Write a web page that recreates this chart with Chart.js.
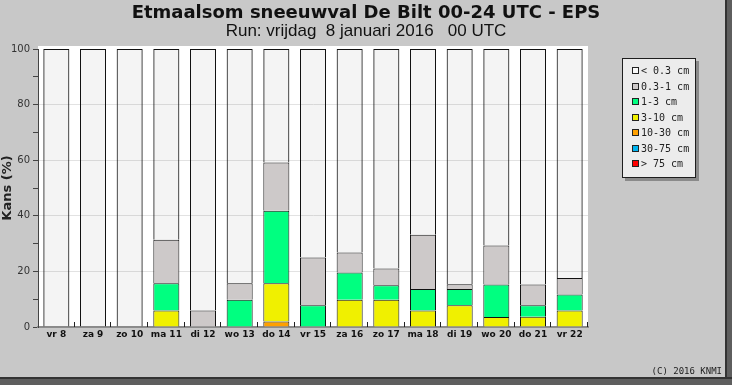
<!DOCTYPE html>
<html>
<head>
<meta charset="utf-8">
<script src="https://cdn.jsdelivr.net/npm/chart.js@4.4.1/dist/chart.umd.min.js"></script>
<style>
  body { margin: 0; background: #c8c8c8; }
  #wrap { position: relative; width: 732px; height: 385px; overflow: hidden; background: #c8c8c8; }
  #plot { position: absolute; left: 0; top: 0; }
  .edge-r { position: absolute; left: 725px; top: 0; width: 7px; height: 385px; background: #5e5e5e; border-left: 2px solid #333; box-sizing: border-box; }
  .edge-b { position: absolute; left: 0; top: 377px; width: 732px; height: 8px; background: #5e5e5e; border-top: 2px solid #333; box-sizing: border-box; }
  .title { position: absolute; left: 0; width: 732px; text-align: center; white-space: pre; color: #111; }
  #t1 { top: 3px; font: bold 18px "DejaVu Sans"; line-height: 18px; }
  #t2 { top: 22px; font: 17px "Liberation Sans"; line-height: 18px; }
  #legend { position: absolute; left: 622px; top: 58px; width: 72px; height: 114px; background: #ececec; border: 1px solid #1e1e1e; box-shadow: 3px 3px 0 #8a8a8a; padding-top: 4px; box-sizing: content-box; }
  .item { height: 15.5px; display: flex; align-items: center; padding-left: 9px; font: 10px "DejaVu Sans Mono"; color: #222; white-space: pre; }
  .sq { width: 5px; height: 5px; border: 1px solid #222; margin-right: 2px; }
  #copy { position: absolute; right: 10px; top: 366px; font: 9px "DejaVu Sans Mono"; color: #222; }
</style>
</head>
<body>
<div id="wrap">
  <canvas id="plot" width="732" height="385"></canvas>
  <div class="title" id="t1">Etmaalsom sneeuwval De Bilt 00-24 UTC - EPS</div>
  <div class="title" id="t2">Run: vrijdag  8 januari 2016   00 UTC</div>
  <div id="legend"></div>
  <div id="copy">(C) 2016 KNMI</div>
  <div class="edge-r"></div>
  <div class="edge-b"></div>
</div>
<script>
/// data ///
const days = ['vr 8', 'za 9', 'zo 10', 'ma 11', 'di 12', 'wo 13', 'do 14', 'vr 15', 'za 16', 'zo 17', 'ma 18', 'di 19', 'wo 20', 'do 21', 'vr 22'];
const gt75    = [0, 0, 0, 0, 0, 0, 0, 0, 0, 0, 0, 0, 0, 0, 0];
const c30to75 = [0, 0, 0, 0, 0, 0, 0, 0, 0, 0, 0, 0, 0, 0, 0];
const c10to30 = [0, 0, 0, 0, 0, 0, 2.0, 0, 0, 0, 0, 0, 0, 0, 0];
const c3to10  = [0, 0, 0, 5.9, 0, 0, 13.7, 0, 9.8, 9.8, 5.9, 7.8, 3.6, 3.7, 5.9];
const c1to3   = [0, 0, 0, 9.8, 0, 9.8, 26.1, 7.8, 9.8, 5.2, 7.8, 5.9, 11.7, 4.1, 5.8];
const c03to1  = [0, 0, 0, 15.7, 5.9, 5.9, 17.4, 17.2, 7.2, 6.0, 19.5, 1.7, 14.0, 7.5, 5.9];
const lt03    = [100, 100, 100, 68.6, 94.1, 84.3, 40.8, 75, 73.2, 79.0, 66.8, 84.6, 70.7, 84.7, 82.4];

const classes = [
  { label: '> 75 cm',  data: gt75,    color: '#ff0000' },
  { label: '30-75 cm', data: c30to75, color: '#00b4f0' },
  { label: '10-30 cm', data: c10to30, color: '#ffa000' },
  { label: '3-10 cm',  data: c3to10,  color: '#f0f000' },
  { label: '1-3 cm',   data: c1to3,   color: '#00ff80' },
  { label: '0.3-1 cm', data: c03to1,  color: '#cdc9c9' },
  { label: '< 0.3 cm', data: lt03,    color: 'rgba(0,0,0,0.045)', key: '#f8f8f8' }
];

/// legend ///
const legend = document.getElementById('legend');
classes.slice().reverse().forEach(c => {
  const row = document.createElement('div');
  row.className = 'item';
  const sq = document.createElement('span');
  sq.className = 'sq';
  sq.style.background = c.key || c.color;
  row.appendChild(sq);
  row.appendChild(document.createTextNode(c.label));
  legend.appendChild(row);
});

/// plot ///
const plotBg = {
  id: 'plotBg',
  beforeDraw(chart) {
    const a = chart.chartArea;
    const g = chart.ctx;
    g.save();
    g.fillStyle = '#ffffff';
    g.fillRect(a.left, a.top - 3, a.right - a.left, a.bottom - a.top + 3);
    g.restore();
  }
};

const innerTicks = {
  id: 'innerTicks',
  afterDatasetsDraw(chart) {
    const xs = chart.scales.x;
    const g = chart.ctx;
    const step = xs.getPixelForValue(1) - xs.getPixelForValue(0);
    g.save();
    g.strokeStyle = '#222';
    g.lineWidth = 1;
    for (let i = 0; i < days.length; i++) {
      const x = Math.round(xs.getPixelForValue(i) + step / 2) - 0.5;
      g.beginPath();
      g.moveTo(x, xs.top);
      g.lineTo(x, xs.top - 5);
      g.stroke();
    }
    g.restore();
  }
};

const ctx = document.getElementById('plot').getContext('2d');
new Chart(ctx, {
  type: 'bar',
  data: {
    labels: days,
    datasets: classes.map(c => ({
      label: c.label,
      data: c.data,
      backgroundColor: c.color,
      borderColor: '#111',
      borderWidth: 1,
      borderSkipped: 'start',
      barPercentage: 0.71,
      categoryPercentage: 1
    }))
  },
  options: {
    responsive: false,
    animation: false,
    layout: { padding: { left: 0, top: 49, right: 144, bottom: 38 } },
    plugins: { legend: { display: false }, tooltip: { enabled: false } },
    scales: {
      x: {
        stacked: true,
        afterFit(scale) { scale.height = 20; },
        grid: { display: false, drawTicks: false },
        border: { display: true, color: '#8c8c8c', width: 2 },
        ticks: {
          padding: 2,
          maxRotation: 0,
          minRotation: 0,
          autoSkip: false,
          color: '#111',
          font: { family: 'DejaVu Sans', size: 9, weight: 'bold' }
        }
      },
      y: {
        stacked: true,
        min: 0,
        max: 100,
        afterFit(scale) { scale.width = 38; },
        border: { color: '#444', width: 1 },
        grid: {
          tickLength: 5,
          tickColor: '#444',
          color: c => (c.tick && c.tick.value % 20 === 0 && c.tick.value > 0 && c.tick.value < 100) ? '#e2e2e2' : 'rgba(0,0,0,0)'
        },
        ticks: {
          stepSize: 10,
          padding: 3,
          color: '#333',
          font: { family: 'DejaVu Sans', size: 10 },
          callback: v => (v % 20 === 0 ? v : '')
        },
        title: {
          display: true,
          text: 'Kans (%)',
          color: '#222',
          padding: { top: 0, bottom: 0 },
          font: { family: 'DejaVu Sans', size: 13, weight: 'bold' }
        }
      }
    }
  },
  plugins: [plotBg, innerTicks]
});
</script>
</body>
</html>
